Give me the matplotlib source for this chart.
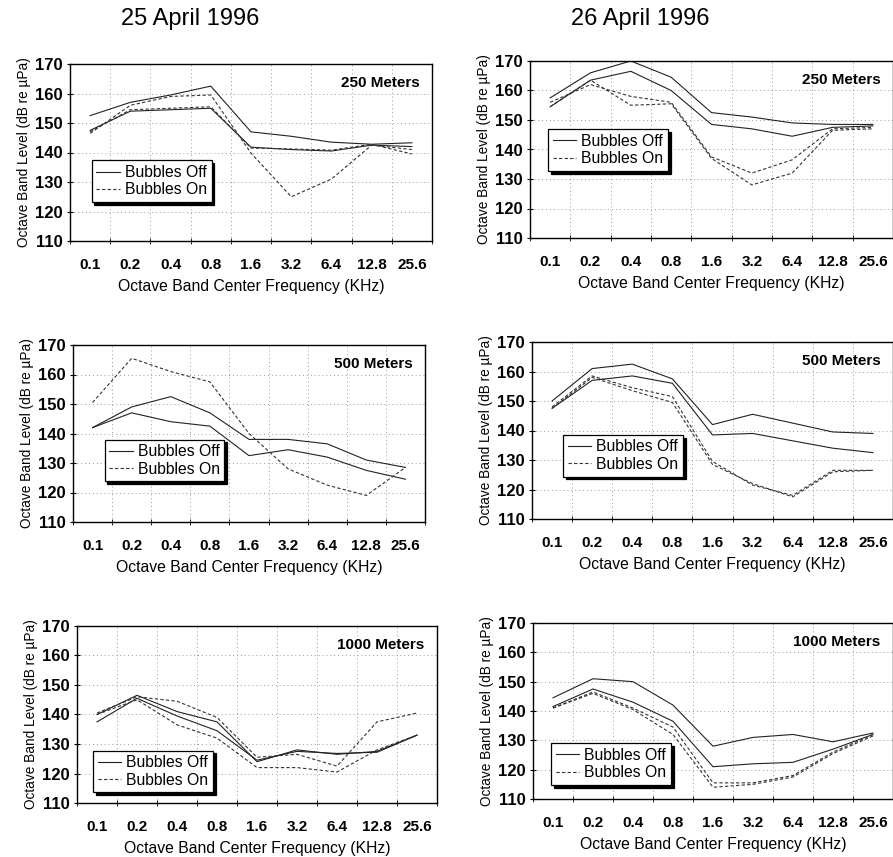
import numpy as np
import matplotlib
matplotlib.use('Agg')
import matplotlib.pyplot as plt

plt.rcParams['font.family'] = ['Liberation Sans', 'DejaVu Sans']

# Octave band centre frequencies (kHz)
freqs = ['0.1', '0.2', '0.4', '0.8', '1.6', '3.2', '6.4', '12.8', '25.6']

# 25 April 1996
apr25_250_off = [[152.5, 157, 159.5, 162.5, 147, 145.5, 143.5, 142.8, 143.3],
                 [147.5, 154, 154.5, 155, 141.8, 141, 140.5, 142.5, 142]]
apr25_250_on = [[146.5, 156, 159, 159.5, 139.8, 125, 131, 142.5, 141],
                [147, 154.5, 155, 155.5, 141.5, 141.2, 140.8, 142.8, 139.5]]

apr25_500_off = [[142, 149, 152.5, 147, 138, 138, 136.5, 131, 128.5],
                 [142, 147, 144, 142.5, 132.5, 134.5, 132, 127.5, 124.5]]
apr25_500_on = [[150.5, 165.5, 161, 157.5, 140, 128, 122.5, 119, 128.5]]

apr25_1000_off = [[140, 146.5, 141, 137.5, 124, 128, 126.5, 127.5, 133],
                  [137.5, 145.5, 139.5, 134.5, 124.5, 127.5, 126.8, 127.2, 133]]
apr25_1000_on = [[140.5, 146, 144.5, 139, 125.5, 126.5, 122.5, 137.5, 140.5],
                 [140, 145, 136.5, 132, 122, 122, 120.5, 128, 133]]

# 26 April 1996
apr26_250_off = [[157.5, 166, 170, 164.5, 152.5, 151, 149, 148.5, 148.5],
                 [154.5, 163.5, 166.5, 160, 148.5, 147, 144.5, 147.5, 148]]
apr26_250_on = [[156, 162, 158, 156, 137.5, 132, 136.5, 147, 147.5],
                [154.5, 163.5, 155, 155.5, 137, 128, 132, 146.5, 147]]

apr26_500_off = [[150, 161, 162.5, 157.5, 142, 145.5, 142.5, 139.5, 139],
                 [147.5, 157, 158.5, 156, 138.5, 139, 136.5, 134, 132.5]]
apr26_500_on = [[148, 158.5, 154.5, 151.5, 129.5, 121.5, 118, 126.5, 126.5],
                [147.5, 158, 153.5, 149.5, 128.5, 122, 117.5, 126, 126.5]]

apr26_1000_off = [[144.5, 151, 150, 142, 128, 131, 132, 129.5, 132.5],
                  [141.5, 147.5, 143, 136.5, 121, 122, 122.5, 127, 132]]
apr26_1000_on = [[141, 146.5, 141, 134.5, 115.5, 115.5, 118, 126, 132],
                 [141, 146, 140.5, 132, 114, 115, 117.5, 125.5, 131.5]]

panels = [
    # data off, data on, label, axes box in pixels, legend anchor
    (apr25_250_off, apr25_250_on, '250 Meters', [70, 64, 432, 241], (0.06, 0.22)),
    (apr26_250_off, apr26_250_on, '250 Meters', [530, 61, 893, 238], (0.05, 0.38)),
    (apr25_500_off, apr25_500_on, '500 Meters', [73, 345, 425, 522], (0.09, 0.23)),
    (apr26_500_off, apr26_500_on, '500 Meters', [532, 342, 893, 519], (0.086, 0.24)),
    (apr25_1000_off, apr25_1000_on, '1000 Meters', [77, 626, 437, 803], (0.045, 0.06)),
    (apr26_1000_off, apr26_1000_on, '1000 Meters', [533, 623, 893, 799], (0.05, 0.08)),
]

W, H = 893, 857
fig = plt.figure(figsize=(W / 100, H / 100), dpi=100)

x = np.arange(len(freqs))

for off, on, label, (l, t, r, b), anchor in panels:
    ax = fig.add_axes([l / W, 1 - b / H, (r - l) / W, (b - t) / H])
    for i, s in enumerate(off):
        ax.plot(x, s, color='#222222', lw=0.8, label='Bubbles Off' if i == 0 else None)
    for i, s in enumerate(on):
        ax.plot(x, s, color='#333333', lw=0.8, ls=(0, (3, 2)),
                label='Bubbles On' if i == 0 else None)

    ax.set_xlim(-0.5, len(freqs) - 0.5)
    ax.set_ylim(110, 170)
    ax.set_xticks(x)
    ax.set_xticklabels(freqs, fontsize=11, fontweight='bold')
    ax.set_xticks(np.arange(-0.5, len(freqs), 1), minor=True)
    ax.tick_params(axis='x', which='major', length=0, pad=12)
    ax.tick_params(axis='x', which='minor', length=4, direction='inout')
    ax.set_yticks(np.arange(110, 171, 10))
    ax.tick_params(axis='y', labelsize=12, length=4, direction='inout')
    for lab in ax.get_yticklabels():
        lab.set_fontweight('bold')
    ax.grid(True, axis='x', which='minor', color='#999999', ls=(0, (1, 3)), lw=0.7)
    ax.grid(True, axis='y', which='major', color='#999999', ls=(0, (1, 3)), lw=0.7)
    for sp in ax.spines.values():
        sp.set_linewidth(1.0)

    ax.set_xlabel('Octave Band Center Frequency (KHz)', fontsize=11.3, labelpad=5)
    ax.set_ylabel('Octave Band Level (dB re µPa)', fontsize=9.8, labelpad=3)
    ax.text(0.965, 0.93, label, transform=ax.transAxes, ha='right', va='top',
            fontsize=11, fontweight='bold')

    leg = ax.legend(loc='lower left', bbox_to_anchor=anchor, fontsize=11.3,
                    frameon=True, fancybox=False, edgecolor='black', framealpha=1,
                    shadow={'color': 'black', 'alpha': 1}, borderpad=0.3,
                    handlelength=1.5, handletextpad=0.3, labelspacing=0.15,
                    borderaxespad=0)
    leg.get_frame().set_linewidth(0.9)

fig.text(190 / W, 1 - 19 / H, '25 April 1996', ha='center', va='center', fontsize=17)
fig.text(640 / W, 1 - 19 / H, '26 April 1996', ha='center', va='center', fontsize=17)

fig.savefig('out.png', dpi=100)
